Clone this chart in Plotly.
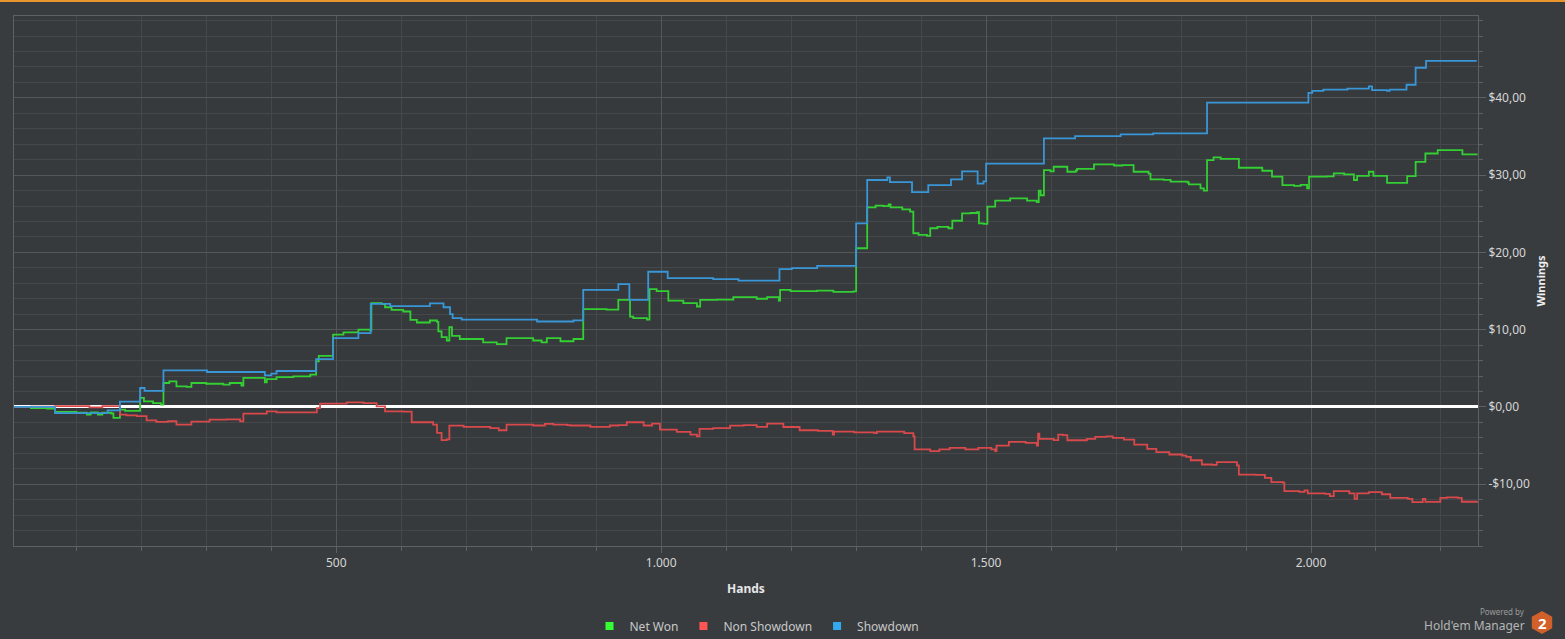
import plotly.graph_objects as go

# ---------------- data (hand number, cumulative winnings $) ----------------
net_won_hands = [0, 30, 55, 67, 100, 116, 122, 133, 140, 154, 157, 167, 175, 193, 198, 204, 218, 230,
                 234, 243, 254, 270, 277, 300, 326, 336, 354, 357, 377, 390, 393, 408, 434, 460, 469,
                 473, 495, 511, 534, 552, 554, 570, 575, 585, 603, 614, 624, 644, 655, 657, 662, 670,
                 674, 678, 690, 726, 747, 762, 788, 803, 816, 824, 845, 865, 880, 916, 934, 950, 952,
                 957, 978, 982, 993, 1011, 1034, 1055, 1060, 1086, 1111, 1147, 1163, 1181, 1183, 1199,
                 1240, 1265, 1296, 1300, 1317, 1330, 1342, 1350, 1353, 1371, 1383, 1388, 1396, 1409,
                 1414, 1425, 1442, 1448, 1463, 1476, 1486, 1489, 1496, 1502, 1514, 1537, 1563, 1578,
                 1581, 1584, 1589, 1599, 1604, 1620, 1625, 1638, 1640, 1666, 1697, 1710, 1727, 1750,
                 1753, 1773, 1784, 1810, 1812, 1830, 1835, 1840, 1850, 1861, 1889, 1925, 1940, 1956,
                 1974, 1984, 1994, 1997, 2025, 2035, 2051, 2066, 2071, 2089, 2096, 2117, 2148, 2161,
                 2176, 2195, 2225, 2233, 2255]
net_won_values = [0.0, -0.15, -0.2, -0.65, -0.75, -1.0, -0.7, -1.0, -0.75, -0.85, -1.42, -0.35, -0.5,
                  -0.5, 1.16, 0.72, 0.5, 0.3, 3.1, 3.3, 2.66, 2.6, 3.1, 3.0, 2.9, 3.1, 2.75, 3.75, 3.75,
                  3.18, 3.6, 3.85, 3.95, 4.17, 5.9, 6.6, 9.35, 9.65, 10.0, 9.9, 13.44, 13.3, 12.9, 12.57,
                  12.35, 11.28, 10.93, 11.19, 11.0, 9.77, 9.04, 8.6, 10.33, 9.2, 8.79, 8.35, 8.14, 8.9,
                  8.9, 8.6, 8.35, 8.9, 8.5, 8.79, 12.66, 12.6, 13.86, 13.9, 11.7, 11.5, 11.3, 15.25, 15.0,
                  13.77, 13.44, 13.0, 13.86, 13.9, 14.2, 14.0, 14.2, 13.77, 15.15, 15.0, 15.05, 14.9,
                  14.95, 20.54, 25.84, 26.05, 26.0, 26.2, 25.84, 25.58, 25.27, 22.48, 22.26, 22.15,
                  23.13, 23.3, 23.13, 24.1, 25.06, 25.1, 25.2, 23.77, 23.7, 25.92, 26.7, 27.0, 26.7,
                  26.52, 27.98, 27.4, 30.66, 30.5, 31.09, 31.09, 30.44, 30.6, 30.8, 31.4, 31.25, 31.3,
                  30.44, 30.2, 29.45, 29.4, 29.15, 29.05, 28.8, 28.3, 28.0, 31.95, 32.3, 32.1, 30.96,
                  30.57, 29.8, 28.72, 28.6, 28.75, 28.3, 29.8, 29.85, 30.23, 30.1, 29.37, 29.9, 30.44,
                  29.9, 29.0, 29.88, 31.73, 32.8, 33.24, 33.24, 32.7, 32.8]

non_showdown_hands = [0, 30, 67, 100, 120, 140, 167, 177, 193, 208, 223, 241, 254, 270, 277, 305, 331,
                      352, 357, 377, 393, 408, 449, 470, 475, 495, 516, 542, 562, 575, 603, 616, 649,
                      655, 662, 670, 674, 685, 696, 726, 737, 750, 762, 803, 821, 834, 855, 860, 891,
                      921, 934, 947, 973, 986, 998, 1024, 1045, 1055, 1059, 1080, 1106, 1127, 1147,
                      1163, 1188, 1213, 1241, 1264, 1266, 1297, 1328, 1332, 1358, 1374, 1388, 1390,
                      1414, 1428, 1444, 1468, 1488, 1508, 1514, 1516, 1535, 1561, 1578, 1580, 1582,
                      1601, 1604, 1611, 1618, 1625, 1655, 1668, 1685, 1695, 1712, 1728, 1748, 1762,
                      1782, 1802, 1808, 1815, 1832, 1848, 1855, 1886, 1889, 1915, 1929, 1939, 1957,
                      1959, 1982, 1990, 1995, 2022, 2029, 2035, 2059, 2067, 2071, 2089, 2109, 2122,
                      2149, 2156, 2172, 2176, 2199, 2209, 2226, 2232, 2256]
non_showdown_values = [0.0, 0.05, 0.1, 0.1, -0.05, 0.1, -1.0, -1.1, -1.2, -1.73, -1.94, -1.85, -2.29,
                       -2.29, -1.9, -1.64, -1.6, -1.86, -0.87, -0.87, -0.57, -0.7, -0.7, -0.15, 0.43,
                       0.43, 0.6, 0.5, 0.08, -0.57, -0.6, -1.98, -2.29, -3.36, -4.3, -4.2, -2.42, -2.42,
                       -2.58, -2.58, -2.75, -3.02, -2.29, -2.4, -2.2, -2.29, -2.35, -2.4, -2.58, -2.4,
                       -2.35, -1.98, -2.4, -2.16, -2.93, -3.23, -3.58, -3.8, -2.84, -2.75, -2.42, -2.35,
                       -2.58, -2.16, -2.6, -3.02, -3.1, -3.58, -3.2, -3.3, -3.4, -3.2, -3.2, -3.4, -3.8,
                       -5.5, -5.73, -5.5, -5.3, -5.5, -5.3, -5.5, -5.73, -5.0, -4.53, -4.65, -5.0, -3.45,
                       -4.14, -4.14, -4.3, -3.58, -3.65, -4.31, -4.14, -3.88, -3.8, -4.0, -4.22, -4.87,
                       -5.43, -5.86, -6.16, -6.3, -6.46, -6.9, -7.45, -7.5, -7.15, -7.58, -8.75, -8.8,
                       -9.17, -9.74, -9.8, -10.9, -11.0, -10.8, -11.2, -11.25, -11.55, -10.9, -11.2,
                       -11.89, -11.2, -11.03, -11.3, -11.76, -11.9, -12.32, -11.9, -12.3, -11.76, -11.7,
                       -11.76, -12.27, -12.2]

showdown_hands = [0, 67, 148, 167, 198, 205, 234, 301, 390, 400, 408, 469, 495, 534, 553, 583, 644,
                  665, 675, 679, 693, 809, 865, 880, 934, 951, 980, 1010, 1080, 1119, 1182, 1201, 1240,
                  1300, 1317, 1348, 1352, 1386, 1411, 1446, 1463, 1487, 1496, 1500, 1589, 1637, 1707,
                  1757, 1840, 1996, 2002, 2019, 2056, 2089, 2094, 2117, 2121, 2147, 2161, 2177, 2255]
showdown_values = [0.0, -0.8, -0.45, 0.68, 2.45, 2.07, 4.73, 4.52, 4.08, 4.3, 4.65, 6.2, 8.9, 9.56,
                   13.35, 13.05, 13.4, 12.9, 12.0, 11.5, 11.3, 11.06, 11.2, 15.15, 15.9, 13.86, 17.5,
                   16.67, 16.54, 16.36, 17.83, 17.96, 18.26, 23.77, 29.37, 29.7, 29.1, 27.8, 28.7, 29.45,
                   30.5, 28.9, 29.2, 31.5, 34.75, 35.05, 35.27, 35.4, 39.4, 40.65, 40.9, 41.08, 41.2,
                   41.5, 41.0, 40.9, 41.08, 41.7, 43.9, 44.8, 44.8]

series_names = ["Net Won", "Non Showdown", "Showdown"]
line_colors = ["#33cf33", "#d9494b", "#3996d7"]
legend_colors = ["#33ff33", "#ff5555", "#33aaee"]

y_tick_vals = [-10, 0, 10, 20, 30, 40]
y_tick_text = ["-$10,00", "$0,00", "$10,00", "$20,00", "$30,00", "$40,00"]
x_tick_vals = [500, 1000, 1500, 2000]
x_tick_text = ["500", "1.000", "1.500", "2.000"]

# ---------------- figure ----------------
W, H = 1565, 639
L, R, T, B = 14, 1478, 16, 546   # plot area in pixels

def px_to_paper(px, py):
    return (px - L) / (R - L), (B - py) / (B - T)

fig = go.Figure()
for name, xs, ys, col in zip(series_names,
                             [net_won_hands, non_showdown_hands, showdown_hands],
                             [net_won_values, non_showdown_values, showdown_values],
                             line_colors):
    fig.add_trace(go.Scatter(x=xs, y=ys, mode="lines", line=dict(color=col, width=1.8, shape="hv"),
                             name=name, showlegend=False, hoverinfo="x+y+name"))
for name, col in zip(series_names, legend_colors):
    fig.add_trace(go.Scatter(x=[None], y=[None], mode="markers", name=name,
                             marker=dict(symbol="square", size=8, color=col)))

bg = "#383c3f"
grid_major = "#53575a"
grid_minor = "#44484b"
axis_line = "#5d6164"
font_family = "Noto Sans, Open Sans, DejaVu Sans, sans-serif"

fig.update_layout(
    width=W, height=H,
    paper_bgcolor=bg, plot_bgcolor="#363a3d",
    margin=dict(l=L, r=W - R, t=T, b=H - B, pad=0, autoexpand=False),
    font=dict(family=font_family, color="#d6d6d6", size=12),
    showlegend=True,
    legend=dict(orientation="h", x=px_to_paper(757, 0)[0], xanchor="center",
                y=px_to_paper(0, 626)[1], yanchor="middle",
                font=dict(size=12, color="#c8c8c8"), bgcolor="rgba(0,0,0,0)",
                itemwidth=30, tracegroupgap=0),
    xaxis=dict(range=[4, 2257], tickmode="array", tickvals=x_tick_vals, ticktext=x_tick_text,
               automargin=False,
               showgrid=True, gridcolor=grid_major, gridwidth=1,
               ticks="outside", ticklen=6, tickcolor=axis_line,
               minor=dict(tickmode="linear", tick0=0, dtick=100, showgrid=True, gridcolor=grid_minor,
                          ticks="outside", ticklen=4, tickcolor=axis_line),
               showline=True, linecolor=axis_line, linewidth=1, mirror=True,
               zeroline=False, tickfont=dict(size=12, color="#d6d6d6"),
               title=dict(text="<b>Hands</b>", font=dict(size=12, color="#e6e6e6"), standoff=14)),
    yaxis=dict(range=[-18, 50.6], side="right", tickmode="array", tickvals=y_tick_vals,
               ticktext=y_tick_text, automargin=False,
               showgrid=True, gridcolor=grid_major, gridwidth=1,
               ticks="outside", ticklen=7, tickcolor=axis_line,
               minor=dict(tickmode="linear", tick0=0, dtick=2, showgrid=True, gridcolor=grid_minor,
                          ticks="outside", ticklen=4, tickcolor=axis_line),
               showline=True, linecolor=axis_line, linewidth=1, mirror=True,
               zeroline=True, zerolinecolor="#ffffff", zerolinewidth=3,
               tickfont=dict(size=12, color="#d6d6d6"),
               title=dict(text="<b>Winnings</b>", font=dict(size=11, color="#f0f0f0"), standoff=8)),
)

# orange strip at the very top
x0p, _ = px_to_paper(0, 0)
x1p, _ = px_to_paper(W, 0)
_, ytop = px_to_paper(0, 0)
_, ybot = px_to_paper(0, 2)
fig.add_shape(type="rect", xref="paper", yref="paper", x0=x0p, x1=x1p, y0=ybot, y1=ytop,
              fillcolor="#e8952c", line=dict(width=0), layer="above")

# Hold'em Manager logo (hexagon with "2")
cx, cy, hw, hh = 1542, 622.5, 10.2, 11.5
hex_pts = [(cx, cy - hh), (cx + hw, cy - hh / 2), (cx + hw, cy + hh / 2),
           (cx, cy + hh), (cx - hw, cy + hh / 2), (cx - hw, cy - hh / 2)]
path = "M " + " L ".join("{:.5f},{:.5f}".format(*px_to_paper(a, b)) for a, b in hex_pts) + " Z"
fig.add_shape(type="path", xref="paper", yref="paper", path=path,
              fillcolor="#d2602a", line=dict(width=0))

def ann(text, px, py, size, color, xanchor="right", bold=False):
    xp, yp = px_to_paper(px, py)
    fig.add_annotation(text=("<b>%s</b>" % text) if bold else text, xref="paper", yref="paper",
                       x=xp, y=yp, xanchor=xanchor, yanchor="middle", showarrow=False,
                       font=dict(size=size, color=color, family=font_family))

ann("Powered by", 1527, 611, 8, "#9b9b9b")
ann("Hold'em Manager", 1527, 625, 12, "#b5b5b5")
ann("2", 1542, 623, 15, "#ffffff", xanchor="center", bold=True)

fig.write_html("out.html", config={"displayModeBar": False},
               post_script="document.body.style.margin='0';document.body.style.overflow='hidden';")
